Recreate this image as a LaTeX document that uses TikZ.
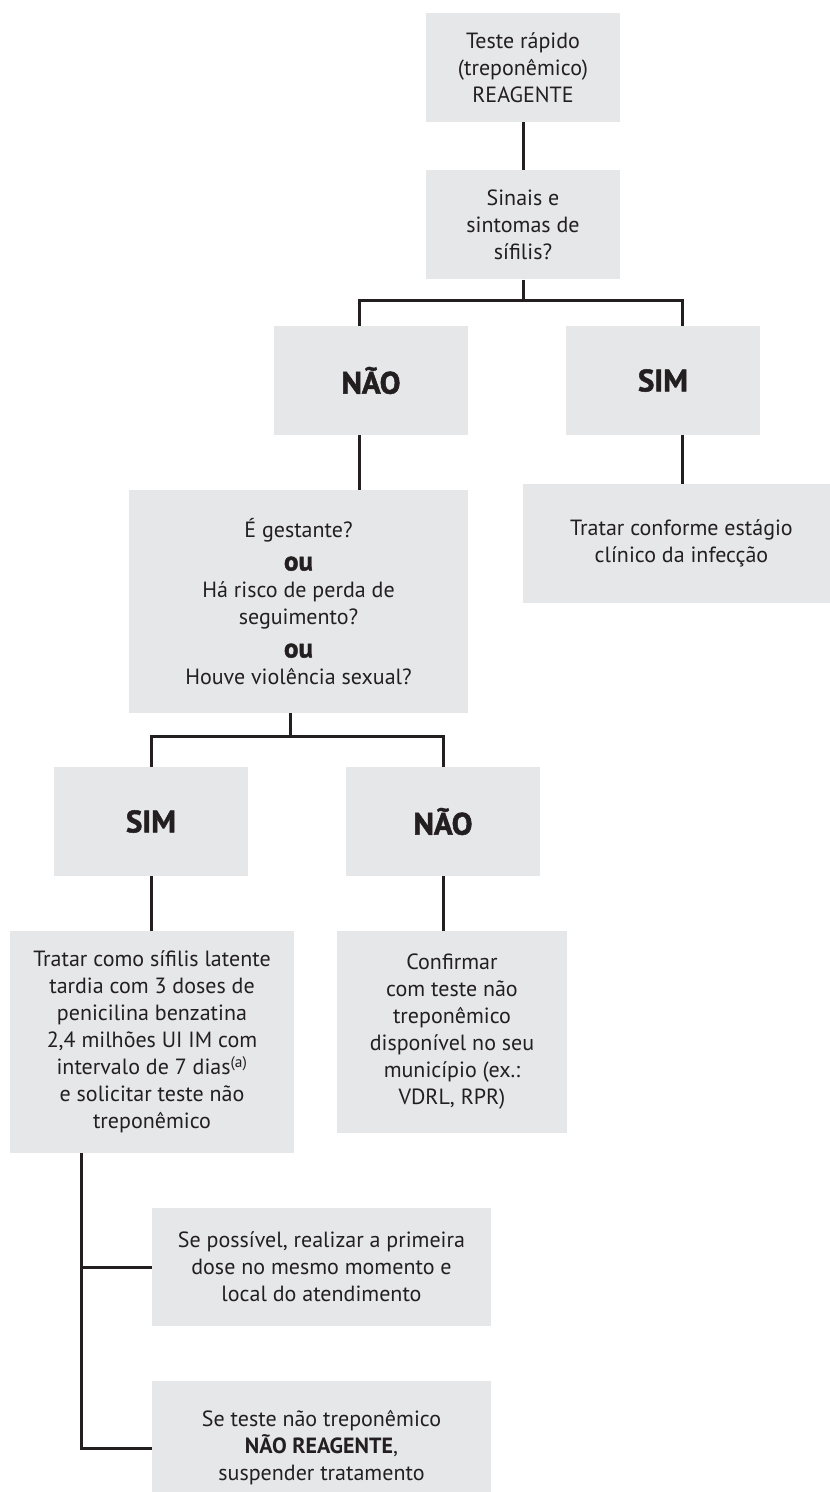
\documentclass[tikz,border=0pt]{standalone}
\usepackage{fontspec}
\setmainfont{PT Sans}
\newfontfamily\heavyfont{PT Sans}[BoldFeatures={FakeBold=1.6}]
\newcommand{\orword}{{\fontsize{27}{27}\selectfont\heavyfont\bfseries ou}}
\usetikzlibrary{positioning,calc}
\definecolor{boxgrey}{HTML}{E6E7E8}
\definecolor{inkdark}{HTML}{231F20}

\begin{document}
\begin{tikzpicture}[x=1pt,y=-1pt]
\tikzset{grey box/.style={
    fill=boxgrey,
    text=inkdark,
    inner sep=0pt,
    align=center,
    font=\fontsize{22}{27}\selectfont
  },
  box size/.style 2 args={minimum width=#1, minimum height=#2},
  answer box/.style={grey box, box size={194pt}{109pt},
    font=\fontsize{31}{36}\selectfont\heavyfont\bfseries},
  flow line/.style={draw=inkdark, line width=3pt}
}
\useasboundingbox (0,0) rectangle (830,1492);

\node[grey box, box size={194pt}{109pt}] (teste) at (523,67.5) {Teste rápido\\(treponêmico)\\REAGENTE};
\node[grey box, box size={194pt}{109pt}, below=48pt of teste] (sinais) {Sinais e\\sintomas de\\sífilis?};
\node[answer box] (nao1) at (371,380.5) {NÃO};
\node[answer box] (sim1) at (663,380.5) {SIM};
\node[grey box, box size={317pt}{119pt}] (conforme) at (681.5,543.5) {Tratar conforme estágio\\clínico da infecção};
\node[grey box, box size={339pt}{223pt}] (gestante) at (298.5,601.5) {É gestante?\\[6pt]\orword\\Há risco de perda de\\seguimento?\\[6pt]\orword\\Houve violência sexual?};
\node[answer box] (sim2) at (151,821.5) {SIM};
\node[answer box] (nao2) at (443,821.5) {NÃO};
\node[grey box, box size={284pt}{222pt}] (tratar) at (152,1042) {Tratar como sífilis latente\\tardia com 3 doses de\\penicilina benzatina\\2,4 milhões UI IM com\\intervalo de 7 dias\textsuperscript{(a)}\\e solicitar teste não\\treponêmico};
\node[grey box, box size={230pt}{202pt}] (confirmar) at (452,1032) {Confirmar\\com teste não\\treponêmico\\disponível no seu\\município (ex.:\\VDRL, RPR)};
\node[grey box, box size={339pt}{118pt}] (possivel) at (321.5,1267) {Se possível, realizar a primeira\\dose no mesmo momento e\\local do atendimento};
\node[grey box, box size={339pt}{134pt}] (suspender) at (321.5,1448) {Se teste não treponêmico\\\textbf{NÃO REAGENTE},\\suspender tratamento};

\draw[flow line] (teste) -- (sinais);
\draw[flow line] (sinais.south) -- ++(0,21) coordinate (fork1);
\draw[flow line] (fork1) -| ([xshift=-12pt]nao1.north);
\draw[flow line] (fork1) -| ([xshift=19pt]sim1.north);
\draw[flow line] ([xshift=-12pt]nao1.south) -- ([xshift=-12pt]nao1.south |- gestante.north);
\draw[flow line] ([xshift=19pt]sim1.south) -- ([xshift=19pt]sim1.south |- conforme.north);
\draw[flow line] ([xshift=-8pt]gestante.south) -- ++(0,23) coordinate (fork2);
\draw[flow line] (fork2) -| (sim2.north);
\draw[flow line] (fork2) -| (nao2.north);
\draw[flow line] (sim2.south) -- (sim2.south |- tratar.north);
\draw[flow line] (nao2.south) -- (nao2.south |- confirmar.north);
\coordinate (trunk) at ([xshift=-71pt]tratar.south);
\draw[flow line] (trunk) |- (possivel.west);
\draw[flow line] (trunk) |- (suspender.west);

\end{tikzpicture}
\end{document}
